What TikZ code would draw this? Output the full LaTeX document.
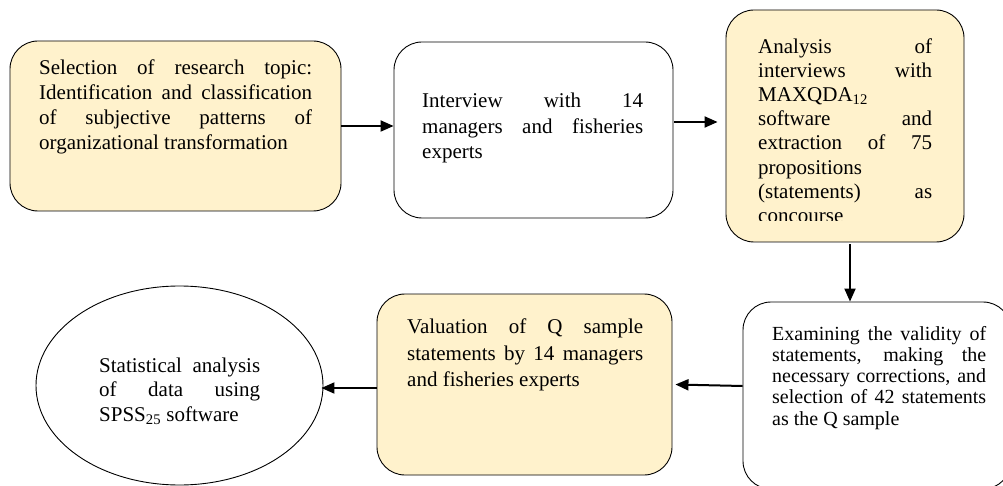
\documentclass[tikz,border=0pt]{standalone}
\usepackage{fontspec}
\setmainfont{Liberation Serif}
\usetikzlibrary{arrows.meta,shapes.geometric,calc}
\definecolor{boxfill}{HTML}{FFF2CC}
\begin{document}
\begin{tikzpicture}[x=1pt,y=-1pt,
  stepbox/.style={draw=black, line width=0.9pt, rounded corners=28pt, rectangle, inner sep=0pt},
  oval/.style={draw=black, line width=0.9pt, ellipse, inner sep=0pt},
  txt/.style={anchor=north west, inner sep=0pt, align=justify, text=black},
  arr/.style={line width=2pt, -{Triangle[length=13pt,width=11pt]}},
]
\useasboundingbox (0,0) rectangle (1003,486);
\clip (0,0) rectangle (1003,486);
\fill[white] (0,0) rectangle (1003,486);

% shapes
\node[stepbox, fill=boxfill, minimum width=331pt, minimum height=170pt] (b1) at (175.5,126) {};
\node[stepbox, fill=white,   minimum width=279pt, minimum height=176pt] (b2) at (533.5,130) {};
\node[stepbox, fill=boxfill, minimum width=238pt, minimum height=232pt] (b3) at (845,126) {};
\node[stepbox, fill=white,   minimum width=268pt, minimum height=187pt] (b4) at (877,395.5) {};
\node[stepbox, fill=boxfill, minimum width=295pt, minimum height=181pt] (b5) at (524.5,384.5) {};
\node[oval, fill=white, minimum width=287pt, minimum height=199pt] (el) at (179.5,385.5) {};

% texts
\node[txt, text width=273pt, font={\fontsize{21}{25}\selectfont\tolerance=10000}] (t1) at (39,60)
  {Selection of research topic:\linebreak Identification and classification\linebreak of subjective patterns of\linebreak organizational transformation};
\node[txt, text width=221pt, font={\fontsize{21}{25.1}\selectfont\tolerance=10000}] (t2) at (422,93.2)
  {Interview with 14\linebreak managers and fisheries\linebreak experts};
\begin{scope}
\clip (726,10) rectangle (964,220.5);
\node[txt, text width=174pt, font={\fontsize{21}{24.1}\selectfont\tolerance=10000}] (t3) at (758,38.6)
  {Analysis of\linebreak interviews with\linebreak MAXQDA\textsubscript{12}\linebreak software and\linebreak extraction of 75\linebreak propositions\linebreak (statements) as\linebreak concourse};
\end{scope}
\node[txt, text width=214pt, font={\fontsize{20}{21.3}\selectfont\tolerance=10000}] (t4) at (772,325.8)
  {Examining the validity of\linebreak statements, making the\linebreak necessary corrections, and\linebreak selection of 42 statements\linebreak as the Q sample};
\node[txt, text width=236pt, font={\fontsize{21}{26.6}\selectfont\tolerance=10000}] (t5) at (407,318.5)
  {Valuation of Q sample\linebreak statements by 14 managers\linebreak and fisheries experts};
\node[txt, text width=161pt, font={\fontsize{21}{24.5}\selectfont\tolerance=10000}] (t6) at (99,357.5)
  {Statistical analysis\linebreak of data using\linebreak SPSS\textsubscript{25} software};

% connectors
\draw[arr] (b1.east) -- (b1.east -| b2.west);
\draw[arr] ($(b2.east)+(1,-8)$) -- ($(b3.west)+(-8,-4)$);
\draw[arr] ($(b3.south)+(5,2)$) -- ($(b4.north)+(-27,0)$);
\draw[arr] ($(b4.west)+(0,-9.5)$) -- ($(b5.east)+(3,0)$);
\draw[arr] ($(b5.west)+(0,3.5)$) -- ($(el.east)+(-2,2.5)$);
\end{tikzpicture}
\end{document}
